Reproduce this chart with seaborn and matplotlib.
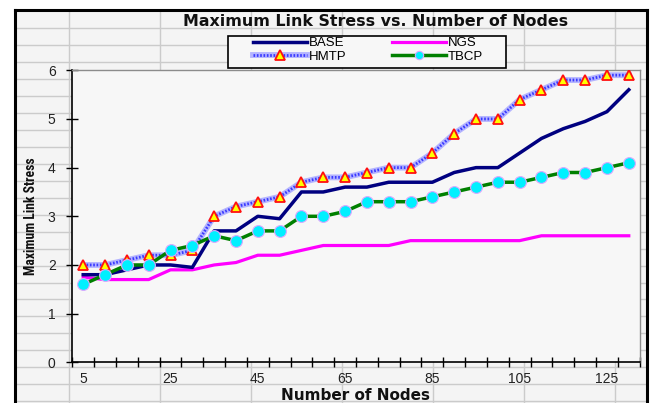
import matplotlib
matplotlib.use("Agg")
import matplotlib.pyplot as plt
from matplotlib.lines import Line2D
from matplotlib.patches import Rectangle
from matplotlib import font_manager as fm
import seaborn as sns
import pandas as pd

# ---- data ----
nodes = [5, 10, 15, 20, 25, 30, 35, 40, 45, 50, 55, 60, 65, 70, 75, 80, 85,
         90, 95, 100, 105, 110, 115, 120, 125, 130]
base = [1.8, 1.8, 1.9, 2.0, 2.0, 1.95, 2.7, 2.7, 3.0, 2.95, 3.5, 3.5, 3.6, 3.6,
        3.7, 3.7, 3.7, 3.9, 4.0, 4.0, 4.3, 4.6, 4.8, 4.95, 5.15, 5.6]
ngs = [1.75, 1.7, 1.7, 1.7, 1.9, 1.9, 2.0, 2.05, 2.2, 2.2, 2.3, 2.4, 2.4, 2.4,
       2.4, 2.5, 2.5, 2.5, 2.5, 2.5, 2.5, 2.6, 2.6, 2.6, 2.6, 2.6]
hmtp = [2.0, 2.0, 2.1, 2.2, 2.2, 2.3, 3.0, 3.2, 3.3, 3.4, 3.7, 3.8, 3.8, 3.9,
        4.0, 4.0, 4.3, 4.7, 5.0, 5.0, 5.4, 5.6, 5.8, 5.8, 5.9, 5.9]
tbcp = [1.6, 1.8, 2.0, 2.0, 2.3, 2.4, 2.6, 2.5, 2.7, 2.7, 3.0, 3.0, 3.1, 3.3,
        3.3, 3.3, 3.4, 3.5, 3.6, 3.7, 3.7, 3.8, 3.9, 3.9, 4.0, 4.1]
xtick_labels = ["5", "25", "45", "65", "85", "105", "125"]
ytick_labels = ["0", "1", "2", "3", "4", "5", "6"]
title = "Maximum Link Stress vs. Number of Nodes"
xlabel = "Number of Nodes"
ylabel = "Maximum Link Stress"

df = pd.DataFrame({"nodes": nodes, "BASE": base, "NGS": ngs,
                   "HMTP": hmtp, "TBCP": tbcp})

# pick a condensed bold font for the y label if one is installed
def pick_condensed():
    cands = []
    for f in fm.fontManager.ttflist:
        nm = f.name.lower()
        st = str(f.stretch).lower()
        base_fn = f.fname.lower().split("/")[-1]
        if f.style != "normal":
            continue
        w = f.weight if isinstance(f.weight, int) else {"bold": 700, "normal": 400}.get(str(f.weight), 400)
        if w < 600 or w > 750:
            continue
        if "extra" in st or "ultra" in st or "extra" in base_fn or "semi" in base_fn or "semi" in st:
            continue
        narrow = ("narrow" in nm or "condensed" in nm or st == "condensed"
                  or "narrow" in base_fn or "condensed" in base_fn)
        if not narrow:
            continue
        score = 1
        if "liberation" in nm:
            score = 6
        elif "roboto" in nm:
            score = 5
        elif "noto sans" in nm and "cjk" not in nm and "mono" not in nm:
            score = 4
        elif "open sans" in nm:
            score = 3
        elif "dejavu" in nm:
            score = 2
        cands.append((score, f.fname))
    if cands:
        cands.sort(key=lambda t: -t[0])
        return fm.FontProperties(fname=cands[0][1], size=10)
    return fm.FontProperties(family=["Liberation Sans", "DejaVu Sans"], weight="bold", size=8.3)

ylab_fp = pick_condensed()

W, H = 653, 403
fig = plt.figure(figsize=(W / 100, H / 100), dpi=100, facecolor="white")

def fx(px):
    return px / W

def fy(py):
    return 1 - py / H

# spreadsheet background
fig.add_artist(Rectangle((fx(15), fy(403)), fx(646) - fx(15), fy(10) - fy(403),
                         transform=fig.transFigure, facecolor="#f4f4f4",
                         edgecolor="none", zorder=0))
grid_c = "#cbcbcb"
py = 28.3
while py < 403:
    fig.add_artist(Line2D([fx(16), fx(645)], [fy(py), fy(py)], transform=fig.transFigure,
                          color=grid_c, lw=1.0, zorder=0.5))
    py += 16.95
for px in [69, 160, 251, 342, 433, 524, 615]:
    fig.add_artist(Line2D([fx(px), fx(px)], [fy(11), fy(403)], transform=fig.transFigure,
                          color=grid_c, lw=1.0, zorder=0.5))
# black frame lines
fig.add_artist(Line2D([fx(15), fx(15)], [fy(10), fy(403)], transform=fig.transFigure,
                      color="black", lw=2.2, zorder=1))
fig.add_artist(Line2D([fx(15), fx(646.5)], [fy(10), fy(10)], transform=fig.transFigure,
                      color="black", lw=2.2, zorder=1))
fig.add_artist(Line2D([fx(646.5), fx(646.5)], [fy(10), fy(403)], transform=fig.transFigure,
                      color="black", lw=2.2, zorder=1))

ax = fig.add_axes([fx(72.3), fy(362.3), fx(639.7) - fx(72.3), fy(70.3) - fy(362.3)])
ax.set_facecolor("#f7f7f7")
ax.set_zorder(2)

# series
sns.lineplot(data=df, x="nodes", y="NGS", ax=ax, color="#ff00ff", lw=2.3, zorder=3)
sns.lineplot(data=df, x="nodes", y="BASE", ax=ax, color="#000080", lw=2.5, zorder=4)
sns.lineplot(data=df, x="nodes", y="HMTP", ax=ax, color="#b4b4ff", lw=4.2, zorder=5)
sns.lineplot(data=df, x="nodes", y="HMTP", ax=ax, color="#3a3aff", lw=2.0,
             linestyle=(0, (0.6, 0.6)), zorder=5.1)
sns.lineplot(data=df, x="nodes", y="HMTP", ax=ax, color="none", lw=0, marker="^",
             markersize=7.5, markerfacecolor="#ffff00", markeredgecolor="#ff1010",
             markeredgewidth=1.3, zorder=5.2)
sns.lineplot(data=df, x="nodes", y="TBCP", ax=ax, color="#008000", lw=2.5, marker="o",
             markersize=8.5, markerfacecolor="#00f0ff", markeredgecolor="#d8a8ff",
             markeredgewidth=0.8, zorder=6)

ax.set_xlim(2.5, 132.5)
ax.set_ylim(0, 6)
ax.set_xlabel("")
ax.set_ylabel("")

# ticks: category boundaries as marks, labels centered on categories
bounds = [n - 2.5 for n in nodes] + [nodes[-1] + 2.5]
ax.set_xticks(bounds)
ax.set_xticklabels([""] * len(bounds))
ax.set_xticks([float(t) for t in xtick_labels], minor=True)
ax.set_xticklabels(xtick_labels, minor=True)
ax.tick_params(axis="x", which="major", direction="inout", length=7, width=1, color="black")
ax.tick_params(axis="x", which="minor", length=0, pad=7, labelsize=10,
               labelcolor="#222222")
ax.set_yticks([float(t) for t in ytick_labels])
ax.set_yticklabels(ytick_labels)
ax.tick_params(axis="y", direction="inout", length=8, width=1, color="black", pad=8,
               labelsize=10, labelcolor="#222222")
for lab in ax.get_xticklabels(minor=True) + ax.get_yticklabels():
    lab.set_family(["Liberation Sans", "DejaVu Sans"])

for s in ["left", "bottom"]:
    ax.spines[s].set_color("black")
    ax.spines[s].set_linewidth(1.2)
for s in ["top", "right"]:
    ax.spines[s].set_color("#8c8c8c")
    ax.spines[s].set_linewidth(1.0)

# texts
fig.text(fx(376), fy(21), title, ha="center", va="center", fontsize=11.4,
         fontweight="bold", family=["DejaVu Sans"], color="#111111", zorder=3)
fig.text(fx(356), fy(395), xlabel, ha="center", va="center", fontsize=11,
         fontweight="bold", family=["DejaVu Sans"], color="#111111", zorder=3)
ytxt = fig.text(fx(31), fy(216), ylabel, ha="center", va="center", rotation=90,
                fontproperties=ylab_fp, color="#111111", zorder=3)
# fit the y label to the reference length (~118 px)
renderer = fig.canvas.get_renderer()
ext = ytxt.get_window_extent(renderer)
if ext.height > 0:
    newsize = min(11.5, ylab_fp.get_size() * 118.0 / ext.height)
    ytxt.set_fontsize(newsize)

# legend (frame drawn separately to match the wide padded box)
fig.add_artist(Rectangle((fx(228), fy(68)), fx(506) - fx(228), fy(36) - fy(68),
                         transform=fig.transFigure, facecolor="#f7f7f7",
                         edgecolor="black", lw=1.2, zorder=8))
h_base = Line2D([], [], color="#000080", lw=2.5)
h_ngs = Line2D([], [], color="#ff00ff", lw=2.3)
h_hm1 = Line2D([], [], color="#b4b4ff", lw=4.2)
h_hm2 = Line2D([], [], color="#3a3aff", lw=2.0, linestyle=(0, (0.6, 0.6)), marker="^",
               markersize=7.5, markerfacecolor="#ffff00", markeredgecolor="#ff1010",
               markeredgewidth=1.3)
h_tb = Line2D([], [], color="#008000", lw=2.5, marker="o", markersize=6,
              markerfacecolor="#00f0ff", markeredgecolor="#d8a8ff", markeredgewidth=0.8)
leg = fig.legend([h_base, (h_hm1, h_hm2), h_ngs, h_tb], ["BASE", "HMTP", "NGS", "TBCP"],
                 ncol=2, loc="upper left", bbox_to_anchor=(fx(253), fy(37)),
                 bbox_transform=fig.transFigure, frameon=False,
                 handlelength=4.1, handletextpad=0.1, columnspacing=3.5,
                 labelspacing=0.12, borderpad=0, borderaxespad=0,
                 prop={"family": ["Liberation Sans", "DejaVu Sans"], "size": 9.5})
leg.set_zorder(10)

fig.savefig("out.png", dpi=100, facecolor="white")
